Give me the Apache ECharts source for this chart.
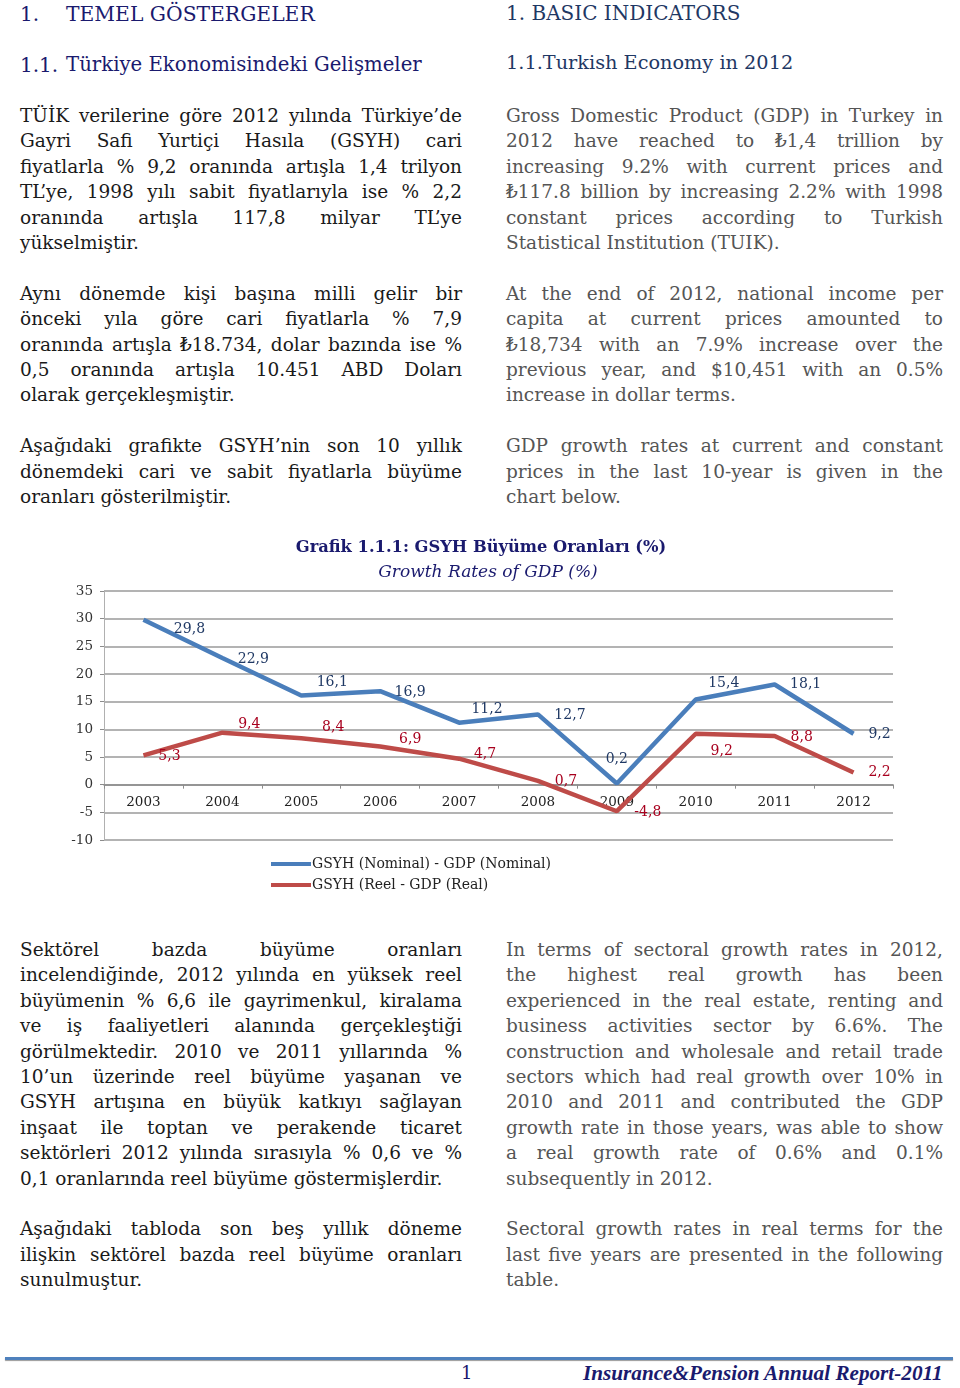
<!DOCTYPE html>
<html>
<head>
<meta charset="utf-8">
<script src="https://cdn.jsdelivr.net/npm/echarts@6/dist/echarts.min.js"></script>
<style>
  html, body { margin:0; padding:0; background:#fff; }
  #page { position:relative; width:960px; height:1388px; overflow:hidden; font-family:"DejaVu Serif", serif; }
  .ln { position:absolute; white-space:nowrap; height:26px; line-height:26px; text-align:justify; text-align-last:justify; }
  .ln.last { text-align-last:left; }
  .h { position:absolute; white-space:nowrap; line-height:26px; }
  #chart { position:absolute; left:0; top:0; width:960px; height:1388px; }
</style>
</head>
<body>
<div id="page">
  <div id="text"></div>
  <div id="chart"></div>
</div>
<script>
// ---------------- DATA ----------------
const years = ['2003','2004','2005','2006','2007','2008','2009','2010','2011','2012'];
const nominal = [29.8, 22.9, 16.1, 16.9, 11.2, 12.7, 0.2, 15.4, 18.1, 9.2];
const real = [5.3, 9.4, 8.4, 6.9, 4.7, 0.7, -4.8, 9.2, 8.8, 2.2];
const seriesNames = ['GSYH (Nominal) - GDP (Nominal)', 'GSYH (Reel - GDP (Real)'];
const chartTitle = 'Grafik 1.1.1: GSYH Büyüme Oranları (%)';
const chartSubtitle = 'Growth Rates of GDP (%)';

const leftTop = [
  ['TÜİK verilerine göre 2012 yılında Türkiye’de','Gayri Safi Yurtiçi Hasıla (GSYH) cari','fiyatlarla % 9,2 oranında artışla 1,4 trilyon','TL’ye, 1998 yılı sabit fiyatlarıyla ise % 2,2','oranında artışla 117,8 milyar TL’ye','yükselmiştir.'],
  ['Aynı dönemde kişi başına milli gelir bir','önceki yıla göre cari fiyatlarla % 7,9','oranında artışla ₺18.734, dolar bazında ise %','0,5 oranında artışla 10.451 ABD Doları','olarak gerçekleşmiştir.'],
  ['Aşağıdaki grafikte GSYH’nin son 10 yıllık','dönemdeki cari ve sabit fiyatlarla büyüme','oranları gösterilmiştir.']
];
const rightTop = [
  ['Gross Domestic Product (GDP) in Turkey in','2012 have reached to ₺1,4 trillion by','increasing 9.2% with current prices and','₺117.8 billion by increasing 2.2% with 1998','constant prices according to Turkish','Statistical Institution (TUIK).'],
  ['At the end of 2012, national income per','capita at current prices amounted to','₺18,734 with an 7.9% increase over the','previous year, and $10,451 with an 0.5%','increase in dollar terms.'],
  ['GDP growth rates at current and constant','prices in the last 10-year is given in the','chart below.']
];
const leftBottom = [
  ['Sektörel bazda büyüme oranları','incelendiğinde, 2012 yılında en yüksek reel','büyümenin % 6,6 ile gayrimenkul, kiralama','ve iş faaliyetleri alanında gerçekleştiği','görülmektedir. 2010 ve 2011 yıllarında %','10’un üzerinde reel büyüme yaşanan ve','GSYH artışına en büyük katkıyı sağlayan','inşaat ile toptan ve perakende ticaret','sektörleri 2012 yılında sırasıyla % 0,6 ve %','0,1 oranlarında reel büyüme göstermişlerdir.'],
  ['Aşağıdaki tabloda son beş yıllık döneme','ilişkin sektörel bazda reel büyüme oranları','sunulmuştur.']
];
const rightBottom = [
  ['In terms of sectoral growth rates in 2012,','the highest real growth has been','experienced in the real estate, renting and','business activities sector by 6.6%. The','construction and wholesale and retail trade','sectors which had real growth over 10% in','2010 and 2011 and contributed the GDP','growth rate in those years, was able to show','a real growth rate of 0.6% and 0.1%','subsequently in 2012.'],
  ['Sectoral growth rates in real terms for the','last five years are presented in the following','table.']
];

// ---------------- TEXT LAYOUT ----------------
const textEl = document.getElementById('text');
const LH = 25.4;
function addParas(paras, left, width, firstCenter, color) {
  let k = 0;
  paras.forEach((p) => {
    p.forEach((line, li) => {
      const d = document.createElement('div');
      d.className = 'ln' + (li === p.length - 1 ? ' last' : '');
      d.style.left = left + 'px';
      d.style.width = width + 'px';
      d.style.top = (firstCenter + k * LH - 13) + 'px';
      d.style.color = color;
      d.style.fontSize = '18.5px';
      d.textContent = line;
      textEl.appendChild(d);
      k++;
    });
    k++;
  });
}
addParas(leftTop, 20, 442, 116, '#1a1a1a');
addParas(rightTop, 506, 437, 116, '#555555');
addParas(leftBottom, 20, 442, 950, '#1a1a1a');
addParas(rightBottom, 506, 437, 950, '#555555');

function addH(txt, left, center, size, color, extra) {
  const d = document.createElement('div');
  d.className = 'h';
  d.style.left = left + 'px';
  d.style.top = (center - 13) + 'px';
  d.style.fontSize = size + 'px';
  d.style.color = color;
  if (extra) Object.assign(d.style, extra);
  d.textContent = txt;
  textEl.appendChild(d);
}
addH('1.', 20, 14, 20, '#1a1a6e');
addH('TEMEL GÖSTERGELER', 66, 14, 20.3, '#1a1a6e');
addH('1.1.', 20, 65, 20, '#1a1a6e');
addH('Türkiye Ekonomisindeki Gelişmeler', 66, 65, 19.7, '#1a1a6e');
addH('1. BASIC INDICATORS', 506, 13, 20, '#1f3864');
addH('1.1.Turkish Economy in 2012', 506, 63, 19.3, '#1f3864');
addH('1', 461, 1373, 18, '#1a1a6e');
addH('Insurance&Pension Annual Report-2011', 583, 1373, 21.2, '#1a1a6e', {fontFamily:'"Liberation Serif", serif', fontWeight:'bold', fontStyle:'italic'});
const bar = document.createElement('div');
Object.assign(bar.style, {position:'absolute', left:'5px', top:'1357px', width:'948px', height:'3px', background:'#4f81bd', boxShadow:'0 1px 1px #999'});
textEl.appendChild(bar);

// ---------------- CHART ----------------
// label offsets (layout only)
const nomOff = [[46,10],[31,1],[31,-13],[30,1],[28,-13],[32,1],[0,-24],[28,-16],[31,0],[26,1]];
const realOff = [[26,1],[27,-8],[32,-11],[30,-7],[26,-4],[28,1],[31,1],[26,18],[27,1],[26,0]];

const gridTop = 591, gridBottomY = 840, yMin = -10, yMax = 35;
const zeroShift = (gridBottomY - gridTop) * (0 - yMin) / (yMax - yMin); // move x axis up to value 0

const chart = echarts.init(document.getElementById('chart'), null, {renderer:'canvas'});
function mk(vals, offs) {
  return vals.map((v, i) => ({ value: v, label: { offset: offs[i] } }));
}
chart.setOption({
  animation: false,
  title: [
    { text: chartTitle, left: 476, top: 535, textAlign: 'center',
      textStyle: { fontFamily:'DejaVu Serif', fontSize: 16.3, fontWeight:'bold', color:'#1a1a6e' } },
    { text: chartSubtitle, left: 483, top: 559, textAlign: 'center',
      textStyle: { fontFamily:'DejaVu Serif', fontSize: 17, fontWeight:'normal', fontStyle:'italic', color:'#1a1a6e' } }
  ],
  legend: {
    orient: 'vertical', left: 266, top: 852, itemGap: 7,
    itemWidth: 40, itemHeight: 4, icon: 'rect',
    textStyle: { fontFamily:'DejaVu Serif', fontSize: 14, color:'#222', padding:[0,0,0,-4] },
    data: seriesNames
  },
  grid: { left: 104, right: 67, top: gridTop, bottom: 1388 - gridBottomY, containLabel: false },
  xAxis: {
    type: 'category', data: years, boundaryGap: true, position: 'bottom',
    offset: -zeroShift,
    axisLine: { onZero: false, lineStyle: { color:'#8c8c8c', width: 1.5 } },
    axisTick: { show: true, length: 4, inside: false, lineStyle: { color:'#8c8c8c' } },
    axisLabel: { margin: 11, fontFamily:'DejaVu Serif', fontSize: 13.5, color:'#222' },
    splitLine: { show: false }
  },
  yAxis: {
    type: 'value', min: yMin, max: yMax, interval: 5,
    axisLine: { show: true, lineStyle: { color:'#b0b0b0', width: 1 } },
    axisTick: { show: true, length: 4, lineStyle: { color:'#8c8c8c' } },
    axisLabel: { margin: 11, fontFamily:'DejaVu Serif', fontSize: 13.5, color:'#333' },
    splitLine: { show: true, lineStyle: { color:'#9a9a9a', width: 1.5 } }
  },
  series: [
    { name: seriesNames[0], type: 'line', data: mk(nominal, nomOff),
      symbol: 'circle', symbolSize: 0, showSymbol: true,
      lineStyle: { color:'#4a7ebb', width: 4.5 }, itemStyle: { color:'#4a7ebb' },
      label: { show: true, position: 'inside', align:'center', verticalAlign:'middle',
        fontFamily:'DejaVu Serif', fontSize: 14, color:'#1f3864',
        formatter: p => String(p.value).replace('.', ',') },
      z: 3 },
    { name: seriesNames[1], type: 'line', data: mk(real, realOff),
      symbol: 'circle', symbolSize: 0, showSymbol: true,
      lineStyle: { color:'#be4b48', width: 4.5 }, itemStyle: { color:'#be4b48' },
      label: { show: true, position: 'inside', align:'center', verticalAlign:'middle',
        fontFamily:'DejaVu Serif', fontSize: 14, color:'#a8001e',
        formatter: p => String(p.value).replace('.', ',') },
      z: 2 }
  ]
});
</script>
</body>
</html>
